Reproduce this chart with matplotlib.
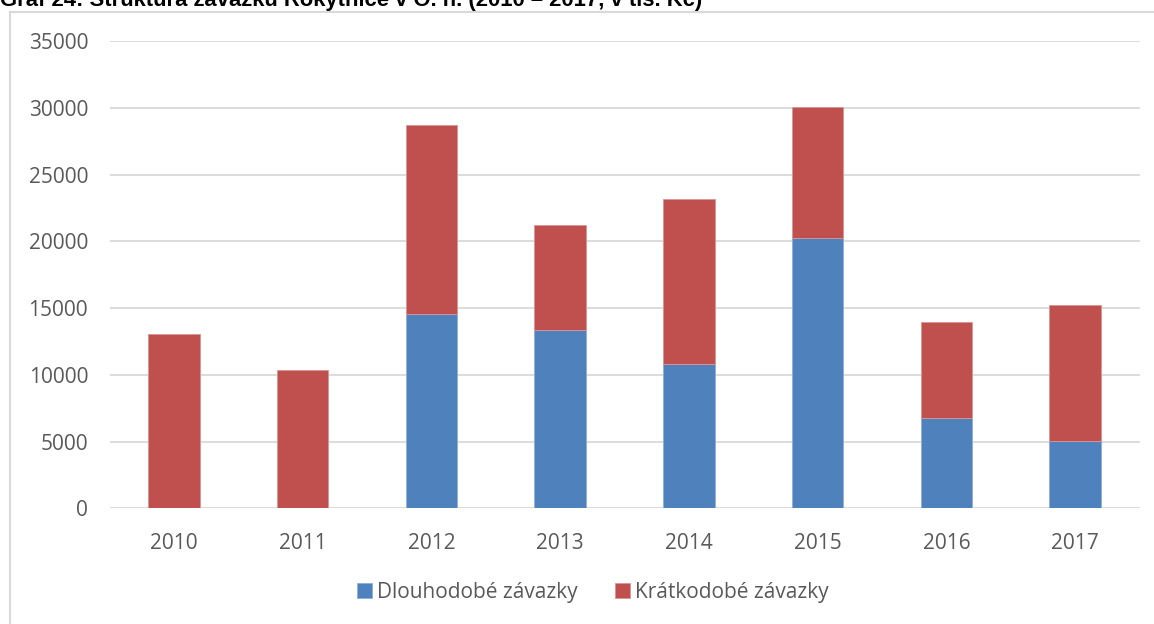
import matplotlib.pyplot as plt
from matplotlib.lines import Line2D

years = ["2010", "2011", "2012", "2013", "2014", "2015", "2016", "2017"]
dlouhodobe = [0, 0, 14570, 13350, 10800, 20270, 6770, 5030]
kratkodobe = [13070, 10350, 14150, 7870, 12350, 9800, 7180, 10220]

blue = "#4f81bd"
red = "#c0504d"
text_color = "#595959"
grid_color = "#d9d9d9"

plt.rcParams["font.family"] = ["Open Sans", "DejaVu Sans"]

fig = plt.figure(figsize=(11.54, 6.24), dpi=100)
ax = fig.add_axes([0.095, 0.1854, 0.8925, 0.7488])

x = range(len(years))
ax.bar(x, dlouhodobe, width=0.4, color=blue, edgecolor="#8eb0d8", linewidth=0.6,
       label="Dlouhodobé závazky", zorder=3)
ax.bar(x, kratkodobe, width=0.4, bottom=dlouhodobe, color=red, edgecolor="#d99694",
       linewidth=0.6, label="Krátkodobé závazky", zorder=3)

ax.set_xlim(-0.5, len(years) - 0.5)
ax.set_ylim(0, 35000)
ax.set_yticks(range(0, 35001, 5000))
ax.set_xticks(list(x))
ax.set_xticklabels(years)
ax.grid(axis="y", color=grid_color, linewidth=1.3, zorder=0)
for s in ax.spines.values():
    s.set_visible(False)
ax.tick_params(axis="both", length=0, colors=text_color, labelsize=15)
ax.tick_params(axis="y", pad=15.5)
ax.tick_params(axis="x", pad=17.5)

handles, labels = ax.get_legend_handles_labels()
fig.legend(handles, labels, loc="center", bbox_to_anchor=(0.514, 0.051), ncol=2,
           frameon=False, fontsize=15, labelcolor=text_color, handlelength=0.7,
           handleheight=0.7, handletextpad=0.25, columnspacing=1.8)

# chart frame (left and top edges only visible)
fig.add_artist(Line2D([10 / 1154, 10 / 1154], [0, 1 - 11.5 / 624], color="#d9d9d9",
                      linewidth=1.5, transform=fig.transFigure))
fig.add_artist(Line2D([10 / 1154, 1], [1 - 11.5 / 624, 1 - 11.5 / 624], color="#d9d9d9",
                      linewidth=1.5, transform=fig.transFigure))

fig.text(0.0, 1 - 6 / 624, "Graf 24: Struktura závazků Rokytnice v O. h. (2010 – 2017, v tis. Kč)",
         fontsize=15.8, fontweight="bold", va="baseline", ha="left", color="black",
         family=["Liberation Sans", "DejaVu Sans"])

fig.savefig("out.png", dpi=100)
